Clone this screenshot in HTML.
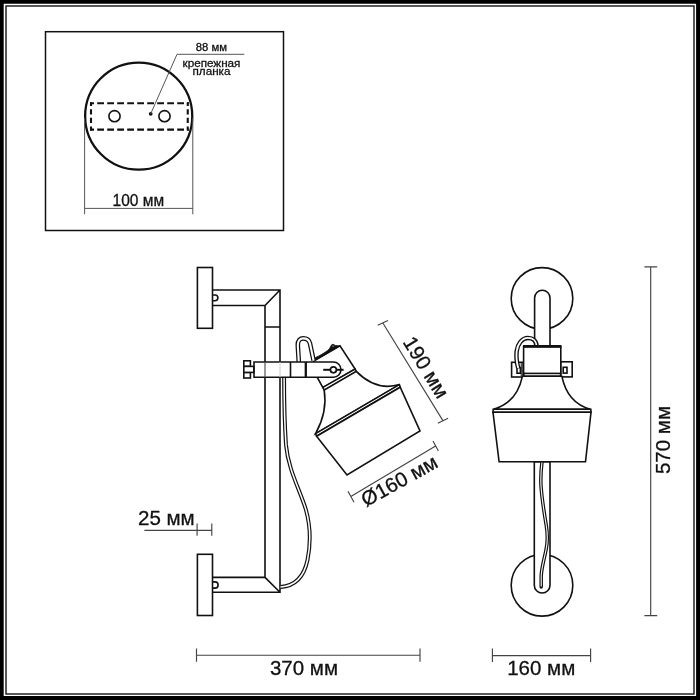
<!DOCTYPE html>
<html><head><meta charset="utf-8">
<style>
html,body{margin:0;padding:0;background:#fff;}
body{width:700px;height:700px;overflow:hidden;}
svg{display:block;filter:grayscale(1);}
text{font-family:"Liberation Sans",sans-serif;fill:#111;stroke:#111;stroke-width:0.3;}
.m{stroke:#111;stroke-width:1.6;fill:none;stroke-linejoin:miter;stroke-linecap:butt;}
.mf{stroke:#111;stroke-width:1.6;fill:#fff;stroke-linejoin:miter;}
.d2{stroke:#555;stroke-width:1;fill:none;}
.d{stroke:#444;stroke-width:1.15;fill:none;}
</style></head><body>
<svg width="700" height="700" viewBox="0 0 700 700">
<rect x="0" y="0" width="700" height="700" fill="#fff"/>
<!-- frame -->
<path d="M0 0 H700 V700 H0 Z M3.7 3.7 V696.1 H696.1 V3.7 Z" fill="#000" fill-rule="evenodd"/>
<rect x="6" y="6" width="688" height="688" fill="none" stroke="#222" stroke-width="1.5"/>

<!-- inset box -->
<g id="inset">
<rect x="45.5" y="31.7" width="238" height="198.8" fill="none" stroke="#111" stroke-width="1.5"/>
<circle cx="138.7" cy="116.15" r="53.55" fill="none" stroke="#111" stroke-width="2.3"/>
<path d="M90 103.2 H188.8 M90 129.6 H188.8" fill="none" stroke="#111" stroke-width="2.1" stroke-dasharray="6.8 3.2" stroke-dashoffset="2.8"/><path d="M91 102.2 V130.6 M187.75 102.2 V130.6" fill="none" stroke="#111" stroke-width="2.1" stroke-dasharray="5.3 3.3" stroke-dashoffset="1.6"/>
<circle cx="114.5" cy="116.2" r="5.6" fill="none" stroke="#111" stroke-width="1.6"/>
<circle cx="164.5" cy="116.2" r="5.6" fill="none" stroke="#111" stroke-width="1.6"/>
<circle cx="150.7" cy="113.8" r="1.9" fill="#111"/>
<path class="d2" d="M150.7 113.8 L177 54.3 L244.3 54.3"/>
<text x="211.3" y="51.3" font-size="11.3" text-anchor="middle" stroke-width="0.15">88 мм</text>
<text x="211.5" y="67" font-size="11.7" text-anchor="middle" stroke-width="0.15">крепежная</text>
<text x="211.5" y="75" font-size="11.7" text-anchor="middle" stroke-width="0.15">планка</text>
<path class="d2" d="M84.6 118 V214.3 M192.8 118 V214.3 M84.6 208.4 H192.8"/>
<text x="138.3" y="205.6" font-size="16.5" text-anchor="middle" textLength="51.6" lengthAdjust="spacingAndGlyphs">100 мм</text>
</g>

<!-- side view -->
<g id="side">
<!-- wall plates -->
<rect class="mf" x="197.4" y="267.5" width="15.1" height="60.8"/>
<rect class="mf" x="197.4" y="554.3" width="15.1" height="61.2"/>
<!-- frame tubes -->
<path class="m" d="M212.5 290 H280 V592.3 H212.5 M212.5 305.5 H265 V577.4 H212.5 M265 305.5 L280 290 M265 577.4 L280 592.3 M265 327 H280"/>
<!-- screws -->
<path class="m" stroke-width="1.5" d="M212.5 294.95 H215 A2.9 2.9 0 0 1 215 300.75 H212.5"/>
<path class="m" stroke-width="1.5" d="M212.5 581.9 H215 A3.1 3.1 0 0 1 215 588.1 H212.5"/>
<!-- cable -->
<path id="cab" d="M284.1 377 C284.1 400 284.3 420 286 445 C288.3 470 300 490 306 510 C311 528 310.5 545 307.5 560 C304 577 295 586 280.5 587" fill="none" stroke="#111" stroke-width="3.9"/>
<path d="M284.1 377 C284.1 400 284.3 420 286 445 C288.3 470 300 490 306 510 C311 528 310.5 545 307.5 560 C304 577 295 586 280.5 587" fill="none" stroke="#fff" stroke-width="1.5"/>
<!-- lamp head -->
<g id="head">
<!-- cap -->
<path class="mf" d="M314.6 360.6 L340 345.9 L355.1 369 L322.9 387.6 L311 366 Z"/>
<path d="M314.6 360.6 L315.5 357.6 L319.3 355.7 C323 353.8 327.5 351 329.4 348.8 L331.6 344.8 L333 344.2 L335.2 345.4 L340 345.9 Z" fill="#111" stroke="#111" stroke-width="0.8" stroke-linejoin="round"/><circle cx="333" cy="346.1" r="0.7" fill="#ddd"/>
<!-- neck ring -->
<path class="mf" d="M322.9 387.4 L355.1 369 L356.3 371.4 L324.2 390.1 Z"/>
<!-- bell -->
<path class="mf" d="M324.2 390.1 C325.8 400 325.3 416 315.6 433.6 L399.4 384.6 Q376 391.4 356.3 371.4 Z"/>
<!-- band -->
<path class="mf" d="M315.6 433.6 L399.4 384.6 L400.2 387.2 L316.6 436.2 Z"/>
<!-- lower -->
<path class="mf" d="M316.6 436.2 L400.2 387.2 L420 431 L347 475 Z"/>
</g>
<!-- hook -->
<path d="M298.8 362 L297.8 345.5 C297.6 340.5 300 338.4 303.4 338.4 C306.6 338.4 308.9 340 309.9 343.1 L313.6 360.6" fill="none" stroke="#111" stroke-width="4.6"/>
<path d="M298.8 362 L297.8 345.5 C297.6 340.5 300 338.4 303.4 338.4 C306.6 338.4 308.9 340 309.9 343.1 L313.6 360.6" fill="none" stroke="#fff" stroke-width="2.1"/>
<!-- clamp -->
<path class="mf" d="M254 362 H333.4 A7.6 7.6 0 0 1 333.4 377.2 H254 Z"/>
<path d="M290.5 362 V377.2" stroke="#111" stroke-width="1.6" fill="none"/><path d="M305.8 362 V377.2" stroke="#111" stroke-width="2.3" fill="none"/>
<path d="M265 362 V377.2" stroke="#555" stroke-width="1.2" fill="none"/><path d="M280 362 V377.2" stroke="#ccc" stroke-width="1" fill="none"/>
<path d="M323.2 369.8 H343.6" stroke="#111" stroke-width="2" fill="none"/>
<circle cx="333.4" cy="369.8" r="3" fill="#fff" stroke="#111" stroke-width="1.7"/>
<!-- knob -->
<rect class="mf" x="243.8" y="360.8" width="6.6" height="5.6" stroke-width="1.6"/>
<rect class="mf" x="243.8" y="372.4" width="6.6" height="5.6" stroke-width="1.6"/>
<rect class="mf" x="243.8" y="366.4" width="10" height="6" stroke-width="1.6"/>
</g>

<!-- dims side -->
<path class="d" d="M382.7 322.7 L442.9 420.6 M377.7 325.2 L388 320.4 M437.8 423.3 L448.1 418.3"/>
<text transform="translate(420.1 371) rotate(58.5)" font-size="20.5" text-anchor="middle">190 мм</text>
<path class="d" d="M350.8 496.4 L435.6 446 M348 491.2 L354 502.2 M433 441 L438.4 451"/>
<text transform="translate(402.7 486.9) rotate(-29)" font-size="20.5" text-anchor="middle">Ø160 мм</text>
<path class="d" d="M144.4 530.4 H212 M197.1 523.4 V535.8 M211.8 523.4 V535.8"/>
<text x="138" y="524.7" font-size="20.5">25 мм</text>
<path class="d" d="M196.5 655.2 H420 M196.5 648.5 V661.8 M420 648.5 V661.8"/>
<text x="304" y="674.6" font-size="20.5" text-anchor="middle">370 мм</text>

<!-- front view -->
<g id="front">
<circle class="mf" cx="542" cy="298.4" r="30.8"/>
<circle class="mf" cx="542" cy="585.3" r="30.8"/>
<!-- tube -->
<path class="mf" d="M534.6 346 V297.9 A7.7 7.7 0 0 1 550 297.9 V346 Z"/>
<path class="mf" d="M534.3 461.8 V585.2 A7.85 7.85 0 0 0 550 585.2 V461.8 Z"/>
<!-- cable in lower tube -->
<path d="M542 461.8 C541 470 540.5 478 541 486 C542 500 544 512 546.2 525 C548 536 547.8 542 546 550 C544 560 541.5 568 541.2 576 V587" fill="none" stroke="#111" stroke-width="3.5" stroke-linecap="round"/>
<path d="M542 461.8 C541 470 540.5 478 541 486 C542 500 544 512 546.2 525 C548 536 547.8 542 546 550 C544 560 541.5 568 541.2 576 V586.4" fill="none" stroke="#fff" stroke-width="1.1"/>
<!-- ears -->
<rect class="mf" x="511.6" y="362.3" width="12" height="14.7" stroke-width="1.4"/><rect x="520.6" y="363" width="3" height="13.4" fill="#555"/>
<rect class="mf" x="560.6" y="361.8" width="11.6" height="15.1" stroke-width="1.4"/>
<rect class="mf" x="517" y="367.6" width="3.4" height="5.6" stroke-width="1.3"/>
<rect class="mf" x="563.2" y="367.3" width="3.8" height="5.8" stroke-width="1.3"/>
<!-- cable loop -->
<path d="M536.6 346 C536.4 341 533 337.9 527.9 337.9 C522 337.9 517.6 344 516.7 351 C516 357 516.6 362 518.2 368" fill="none" stroke="#111" stroke-width="4.5"/>
<path d="M536.6 346 C536.4 341 533 337.9 527.9 337.9 C522 337.9 517.6 344 516.7 351 C516 357 516.6 362 518.2 368" fill="none" stroke="#fff" stroke-width="1.8"/>
<!-- cap -->
<rect class="mf" x="523.6" y="346.6" width="37.2" height="26.8"/>
<path d="M523 346.4 H561.4" stroke="#111" stroke-width="2.6" fill="none"/>
<path class="m" d="M523.6 373.4 V376.3 H560.8 V373.4"/>
<!-- bell -->
<path class="mf" d="M522.4 376.3 Q516.6 403 493.5 409.2 H590.5 Q567.4 403 561.9 376.3 Z"/>
<!-- band -->
<path class="mf" d="M493.2 409.2 H590.8 L591 412.3 H493 Z"/>
<!-- lower -->
<path class="mf" d="M493 412.3 H591 L585.5 461.8 H499.1 Z"/>
</g>
<!-- dims front -->
<path class="d" d="M650.7 266.8 V615.6 M644.4 266.8 H657.2 M644.4 615.6 H657.2"/>
<text transform="translate(669.6 440) rotate(-90)" font-size="20.5" text-anchor="middle">570 мм</text>
<path class="d" d="M492.4 655.6 H590.6 M492.4 648.4 V662 M590.6 648.4 V662"/>
<text x="541.2" y="674.6" font-size="20.5" text-anchor="middle">160 мм</text>
</svg>
</body></html>
